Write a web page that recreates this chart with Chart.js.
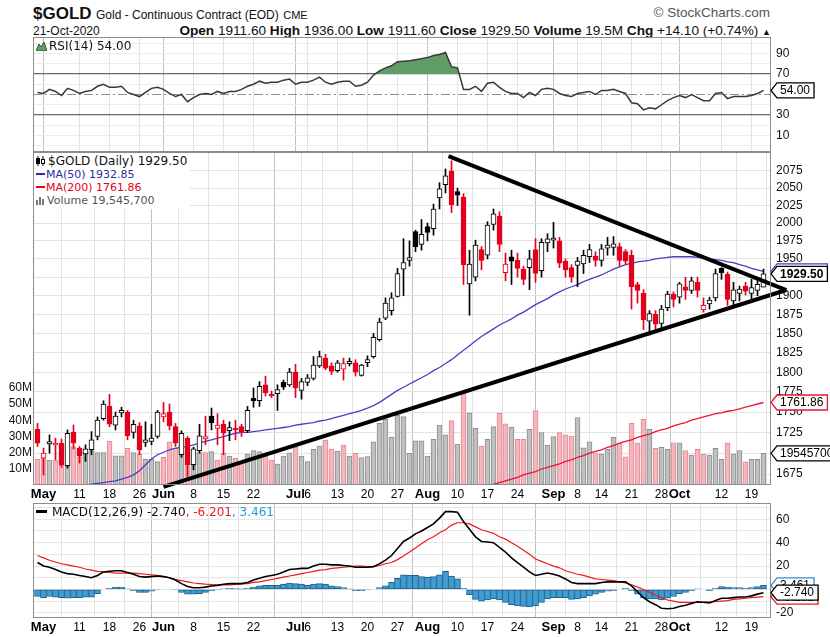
<!DOCTYPE html>
<html><head><meta charset="utf-8">
<script src="https://cdn.jsdelivr.net/npm/chart.js"></script>
<style>
html,body{margin:0;padding:0;background:#fff;}
body{width:830px;height:637px;position:relative;overflow:hidden;font-family:"Liberation Sans",Arial,sans-serif;color:#111;}
.pane{position:absolute;left:0;width:830px;}
.pane canvas{display:block;}
.txt{position:absolute;white-space:nowrap;}
.leg{position:absolute;font-family:"DejaVu Sans",Verdana,sans-serif;white-space:nowrap;}
.dash{display:inline-block;width:9px;height:2px;vertical-align:middle;margin-right:1px;position:relative;top:-1px;}
</style></head><body>
<div class="txt" style="left:33px;top:5px;line-height:17px;"><b style="font-size:17px">$GOLD</b> <span style="font-size:12px">Gold - Continuous Contract (EOD)</span> <span style="font-size:11px">CME</span></div>
<div class="txt" style="right:60px;top:6px;line-height:14px;font-size:13.5px;color:#555;">&copy; StockCharts.com</div>
<div class="txt" id="dateTxt" style="left:33px;top:24px;line-height:14px;font-size:12px;"></div>
<div class="txt" id="quote" style="right:59px;top:23px;line-height:15px;font-size:13.6px;"></div>

<div class="pane" style="top:37px;height:115px"><canvas id="rsi"></canvas></div>
<div class="pane" style="top:152px;height:351px"><canvas id="main"></canvas></div>
<div class="pane" style="top:503px;height:134px"><canvas id="macd"></canvas></div>

<div class="leg" id="rsiLeg" style="left:36px;top:39px;line-height:14px;font-size:12px;color:#111;"></div>
<div class="leg" id="mainLeg" style="left:34px;top:154px;background:#fff;padding:1px 3px 2px 2px;line-height:13px;"></div>
<div class="leg" id="macdLeg" style="left:36px;top:505px;line-height:14px;font-size:12px;"></div>

<script>
// ---------------- data ----------------
const lastDate = '21-Oct-2020';
const priorClose = 1725;
const openP = [1729,1694,1711,1710,1712,1685,1725,1706,1699,1704,
1720,1742,1757,1734,1749,1750,1725,1733,1713,1714,
1720,1744,1750,1732,1698,1718,1686,1703,1717,1745,
1730,1735,1727,1730,1732,1727,1767,1764,1784,1772,
1773,1787,1784,1800,1777,1787,1792,1808,1818,1808,
1802,1804,1811,1812,1796,1812,1820,1842,1870,1880,
1899,1936,1948,1988,1970,1995,1992,2036,2055,2075,
2045,2037,1916,1925,1963,1955,1998,2010,1931,1953,
1948,1936,1938,1963,1934,1972,1976,1975,1947,1938,
1941,1943,1953,1954,1948,1965,1966,1967,1960,1955,
1915,1903,1866,1875,1863,1884,1902,1898,1912,1907,
1918,1881,1889,1897,1937,1929,1893,1903,1913,1903,
1907,1911.6];
const highP = [1736,1706,1722,1718,1717,1728,1734,1708,1710,1726,
1744,1764,1772,1750,1756,1752,1740,1737,1738,1735,
1752,1762,1760,1736,1727,1720,1707,1735,1745,1755,
1748,1740,1738,1740,1735,1757,1780,1788,1795,1776,
1784,1790,1805,1810,1792,1797,1820,1827,1823,1812,
1815,1818,1818,1816,1810,1821,1850,1870,1897,1904,
1937,1978,1975,1990,2005,2000,2027,2058,2078,2090,
2050,2042,1962,1976,1967,2002,2020,2016,1958,1962,
1958,1940,1962,1978,1978,1985,2001,1980,1950,1942,
1952,1962,1970,1960,1970,1980,1981,1972,1963,1962,
1918,1908,1880,1880,1887,1906,1905,1918,1925,1925,
1925,1897,1898,1936,1938,1932,1918,1913,1918,1922,
1925,1936];
const lowP = [1708,1674,1700,1692,1683,1682,1705,1688,1690,1698,
1716,1740,1732,1728,1744,1716,1718,1698,1708,1710,
1718,1738,1728,1708,1695,1672,1680,1700,1710,1728,
1710,1698,1715,1716,1720,1725,1756,1757,1770,1768,
1752,1778,1782,1768,1766,1783,1790,1806,1803,1797,
1800,1790,1808,1795,1795,1807,1818,1840,1868,1874,
1898,1900,1940,1960,1962,1975,1983,2020,2043,2015,
2025,1915,1874,1920,1935,1950,1990,1960,1920,1915,
1925,1915,1908,1918,1925,1960,1965,1938,1925,1918,
1912,1930,1945,1940,1940,1955,1955,1940,1943,1882,
1890,1855,1848,1852,1857,1880,1885,1890,1895,1903,
1898,1878,1882,1893,1922,1887,1884,1893,1901,1896,
1900,1911.6];
const closeP = [1712,1700,1714,1712,1686,1724,1712,1697,1705,1716,
1740,1760,1735,1745,1752,1721,1735,1704,1716,1718,
1750,1748,1733,1712,1724,1686,1705,1721,1720,1737,
1734,1724,1731,1728,1726,1752,1764,1782,1774,1770,
1778,1781,1800,1780,1788,1793,1809,1820,1805,1801,
1812,1811,1814,1800,1809,1816,1845,1865,1890,1897,
1930,1945,1952,1967,1984,1987,2020,2049,2068,2026,
2040,1942,1943,1969,1948,1997,2013,1970,1943,1947,
1937,1922,1950,1930,1973,1978,1979,1944,1935,1925,
1947,1955,1963,1948,1964,1969,1971,1948,1947,1912,
1907,1868,1876,1862,1882,1902,1895,1916,1907,1920,
1907,1887,1894,1930,1931,1895,1908,1909,1906,1911,
1915.4,1929.5];
const volumeM = [15.8,18.9,15.4,15.4,12.3,24.7,23.7,17.5,21.2,21.2,
20.0,20.0,27.1,18.0,18.0,22.6,20.0,18.9,15.8,15.8,
14.4,17.1,26.7,22.6,21.2,18.0,19.5,20.0,20.0,20.6,
15.4,19.5,17.9,16.4,14.4,19.1,21.2,20.6,17.9,15.4,
12.9,17.9,19.9,23.6,17.9,14.4,22.0,24.1,27.8,22.2,
21.0,24.7,17.9,19.5,16.9,17.5,26.7,38.1,40.6,29.5,
43.0,42.2,19.5,27.2,27.2,17.9,28.2,37.0,30.9,39.7,
25.3,56.6,44.3,35.0,24.1,28.2,36.0,44.3,37.7,35.6,
28.2,28.2,34.4,45.9,32.3,24.7,29.9,32.3,30.9,30.2,
41.6,23.0,26.7,19.9,19.1,22.0,29.4,25.7,17.4,38.1,
26.0,40.5,34.3,22.6,23.2,22.0,26.1,26.1,21.2,18.5,
22.0,19.1,18.5,22.6,15.8,26.1,19.1,21.2,14.3,15.8,
15.8,19.5457];
const ma50 = [null,null,null,null,null,null,null,null,
1662,1663,1664,1665,1666,1667,1669,1671,1674,1679,
1686,1693,1698,1701,1704,1706,1707,1708,1710,1712,
1714,1716,1718,1720,1722,1724,1725,1725,1726,1727,
1728,1729,1730,1731,1732,1734,1735,1736,1737,1739,
1740,1742,1744,1746,1748,1750,1752,1755,1758,1762,
1767,1772,1777,1781,1785,1789,1793,1797,1802,1806,
1811,1816,1822,1828,1834,1840,1846,1851,1856,1861,
1865,1869,1874,1878,1883,1888,1892,1896,1901,1905,
1909,1912,1915,1919,1922,1925,1928,1932,1936,1939,
1942,1944,1946,1947,1948,1950,1951,1952,1953,1953,
1953,1953,1952,1951,1950,1949,1948,1946,1945,1942,
1940,1937,1935,1932.85];
const ma200 = [null,null,null,null,null,null,null,null,null,null,
null,null,null,null,null,null,null,null,null,null,
null,null,null,null,null,null,null,null,null,null,
null,null,null,null,null,null,null,null,null,null,
null,null,null,null,null,null,null,null,null,null,
null,null,null,null,null,null,null,null,null,null,
null,null,null,null,null,null,null,null,null,null,
null,null,null,null,null,null,
1663,1665,1667,1669,1671,1674,1676,1678,1681,1683,
1685,1687,1690,1692,1695,1697,1700,1702,1704,1707,
1709,1712,1714,1716,1719,1721,1723,1726,1728,1730,
1733,1735,1737,1740,1742,1744,1746,1748,1749,1751,
1752,1754,1756,1758,1760,1761.86];
const rsi14 = [52,51,55,53,49,56,54,51,53,54,
58,60,57,57,58,52,50,48,52,56,
57,55,51,48,50,43,47,50,51,50,
53,51,53,53,55,58,60,63,61,62,
62,64,65,60,62,62,64,67,62,60,
62,63,63,58,59,62,69,73,76,78,
82,82.5,83,84,85,86,88,89,91,77,
76,55,55,58,53,61,62,57,53,51,
51,47,52,49,55,56,55,51,49,48,
51,52,53,50,54,54,55,53,51,42,
41,35,37,36,40,44,47,49,47,50,
47,44,44,51,52,46,48,48,48,49,
51,54];
const macdLine = [23,20,19,17,15,13.5,13,12,11,10,
12,15,15.5,16,16,14.5,13,11,10.5,11,
11.5,11,10,8,5,2.5,1.5,1.5,2,3,
3.5,4.5,5,5,5,6,8,9.5,11,12,
13,15,17,17.5,18,18,20,21.5,21.5,21,
21,20.5,20,19,19,19,19.5,22,25,29,
35,41,44,47.5,50,53,56,61,66.5,66.5,
66,58,51.5,45,41,40.5,40,36,32,27,
23,19,15,12,13,14,13,11.5,9,6,
5,5,5,5,6,6.5,6.5,6.5,6.5,3,
-2,-7,-10.5,-13,-16,-16.5,-16,-14.5,-13.5,-12,
-10.5,-11,-11.5,-9.5,-7.5,-7.5,-7,-6.5,-6.5,-5.5,
-4,-2.74];
const macdSignal = [29,27,25,23.5,22,21,20,19,17.5,16.5,
15.5,15,14.5,14,14,14,14,13.5,13,12.5,
12,11,10,8.5,7.5,6.5,5.5,5,4.5,4.2,
4,4,4,4.3,4.7,5,6,6.5,7.5,8.5,
9.5,10.5,11.5,12.5,13.5,14.5,15.5,16.5,17,18,
18.5,19,19.5,20,20,19.5,19.5,20.5,22,23,
25.5,28.5,32,35.5,39,42.5,45,48.5,51,55,
57,57,56,53.5,51,49.5,48,45,43,40,
37,33.5,30,26,24,22,20,18.5,16,14.5,
13,12,10.5,9,8.5,8,7.5,6.5,5.5,4,
2,0,-2.5,-5,-7,-9,-10,-11,-11,-11,
-11,-11,-10.5,-10.5,-10,-9.5,-8.5,-8,-7.5,-7,
-6.5,-6.201];
const macdHist = [-6,-7,-6,-6.5,-7,-7.5,-7,-7,-6.5,-6.5,
-3.5,0,1,2,2,0.5,-1,-2.5,-2.5,-1.5,
-0.5,0,0,-0.5,-2.5,-4,-4,-3.5,-2.5,-1.2,
-0.5,0.5,1,0.7,0.3,1,2,3,3.5,3.5,
3.5,4.5,5.5,5,4.5,3.5,4.5,5,4.5,3,
2.5,1.5,0.5,-1,-1,-0.5,0,1.5,3,6,
9.5,12.5,12,12,11,10.5,11,12.5,15.5,11.5,
9,1,-4.5,-8.5,-10,-9,-8,-9,-11,-13,
-14,-14.5,-15,-14,-11,-8,-7,-7,-7,-8.5,
-8,-7,-5.5,-4,-2.5,-1.5,-1,0,1,-1,
-4,-7,-8,-8,-9,-7.5,-6,-3.5,-2.5,-1,
0.5,0,-1,1,2.5,2,1.5,1.5,1,1.5,
2.5,3.461];
const upperTrend = [{x:68.5, y:2097}, {x:124.8, y:1907.6}];
const lowerTrend = [{x:21, y:1659.8}, {x:124.8, y:1907.6}];

const tickIdx  = [1,7,12,17,21,26,31,36,43,45,50,55,60,65,70,75,80,86,90,94,99,104,107,114,119];
const tickText = ['May','11','18','26','Jun','8','15','22','Jul','6','13','20','27','Aug','10','17','24','Sep','8','14','21','28','Oct','12','19'];
const priceTicks = [1675,1700,1725,1750,1775,1800,1825,1850,1875,1900,1925,1950,1975,2000,2025,2050,2075];
const volTicks = [10,20,30,40,50,60];
const rsiGrid = [0,10,20,30,40,50,60,70,80,90,100];
const rsiLabels = [10,30,50,70,90];
const macdGrid = [-20,-10,0,10,20,30,40,50,60,70];
const macdLabels = [-20,20,40,60];

// axis ranges
const X_MIN = -0.75, X_MAX = 122.25;
const P_MIN = 1662.1, P_MAX = 2103;
const V_MAX = 205.6;
const R_MIN = -6.1, R_MAX = 106.1;
const M_MIN = -24.4, M_MAX = 73.9;

// ---------------- helpers ----------------
Chart.defaults.font.family = '"Liberation Sans", Arial, sans-serif';
Chart.defaults.animation = false;
const RED = '#e4001b';
const prevC = i => i === 0 ? priorClose : closeP[i-1];
const isUp = i => closeP[i] >= prevC(i);
const isMonth = i => /[A-Za-z]/.test(tickText[i] || '');
const xy = arr => arr.map((v, i) => ({x: i, y: v}));
const labelFont = {family: '"Liberation Sans", Arial, sans-serif', size: 12};

function xScale(showLabels, h) {
  return {
    type: 'linear', min: X_MIN, max: X_MAX, offset: false,
    afterBuildTicks: s => { s.ticks = tickIdx.map(v => ({value: v})); },
    grid: { color: c => isMonth(c.index) ? '#c2c2c2' : '#e3e3e3', drawTicks: false },
    border: { display: false },
    ticks: { display: showLabels, autoSkip: false, maxRotation: 0, minRotation: 0, padding: 2, color: '#000',
      font: c => isMonth(c.index) ? {family: labelFont.family, size: 13, weight: 'bold'} : labelFont,
      callback: (v, i) => tickText[i] },
    afterFit: s => { s.height = h; s.paddingLeft = 0; s.paddingRight = 0; }
  };
}
function yRight(extra) {
  return Object.assign({
    position: 'right',
    border: { display: false },
    afterFit: s => { s.width = 59; s.paddingTop = 0; s.paddingBottom = 0; }
  }, extra);
}
const frame = { id: 'frame', afterDraw(chart) {
  const a = chart.chartArea, c = chart.ctx;
  c.save(); c.strokeStyle = '#8c8c8c'; c.lineWidth = 1;
  c.strokeRect(Math.round(a.left) + 0.5, Math.round(a.top) + 0.5, Math.round(a.width) - 1, Math.round(a.height) - 1);
  c.restore();
}};
function tag(c, x, y, text, color, bold) {
  c.save();
  c.font = (bold ? 'bold ' : '') + '12px "Liberation Sans", Arial, sans-serif';
  const w = c.measureText(text).width + 7, h = 15;
  c.beginPath();
  c.moveTo(x, y); c.lineTo(x + 6, y - h / 2); c.lineTo(x + 6 + w, y - h / 2);
  c.lineTo(x + 6 + w, y + h / 2); c.lineTo(x + 6, y + h / 2); c.closePath();
  c.fillStyle = '#fff'; c.fill();
  c.lineWidth = 1.3; c.strokeStyle = color; c.stroke();
  c.fillStyle = '#000'; c.textBaseline = 'middle'; c.textAlign = 'left';
  c.fillText(text, x + 9, y + 0.5);
  c.restore();
}
const N = closeP.length - 1;

// ---------------- RSI ----------------
new Chart(document.getElementById('rsi'), {
  type: 'line',
  data: { datasets: [{
    data: xy(rsi14), borderColor: '#383838', borderWidth: 1.5, pointRadius: 0,
    fill: { target: { value: 70 }, above: '#5f9c66', below: 'rgba(0,0,0,0)' }
  }]},
  options: {
    responsive: true, maintainAspectRatio: false, layout: { padding: { left: 33 } },
    plugins: { legend: { display: false }, tooltip: { enabled: false } },
    scales: {
      x: xScale(false, 0),
      y: yRight({ min: R_MIN, max: R_MAX,
        afterBuildTicks: s => { s.ticks = rsiGrid.map(v => ({value: v})); },
        grid: { color: c => { const v = c.tick && c.tick.value; return (v === 70 || v === 30) ? '#6a6a6a' : v === 50 ? '#8f8f8f' : '#ececec'; },
                lineWidth: c => { const v = c.tick && c.tick.value; return (v === 70 || v === 30) ? 1.3 : 1; }, drawTicks: false },
        border: { display: false, dash: c => (c.tick && c.tick.value === 50) ? [9, 3, 2, 3] : [] },
        ticks: { autoSkip: false, padding: 5, color: '#111', font: labelFont, callback: v => rsiLabels.includes(v) ? String(v) : '' }
      })
    }
  },
  plugins: [frame, { id: 'rsiTag', afterDraw(ch) {
    tag(ch.ctx, ch.chartArea.right, ch.scales.y.getPixelForValue(rsi14[N]), rsi14[N].toFixed(2), '#000', false);
  }}]
});

// ---------------- Main price ----------------
new Chart(document.getElementById('main'), {
  data: { datasets: [
    { type: 'line', order: 0, data: upperTrend, borderColor: '#000', borderWidth: 4, pointRadius: 0, clip: false, yAxisID: 'y' },
    { type: 'line', order: 0, data: lowerTrend, borderColor: '#000', borderWidth: 4, pointRadius: 0, clip: false, yAxisID: 'y' },
    { type: 'bar', order: 2, yAxisID: 'y', grouped: false, barThickness: 5,
      data: openP.map((o, i) => ({x: i, y: [o, closeP[i]]})),
      backgroundColor: c => (closeP[c.dataIndex] < openP[c.dataIndex]) ? (isUp(c.dataIndex) ? '#000' : RED) : '#fff',
      borderColor: c => isUp(c.dataIndex) ? '#000' : RED, borderWidth: 1, borderSkipped: false },
    { type: 'bar', order: 3, yAxisID: 'y', grouped: false, barThickness: 1,
      data: lowP.map((l, i) => ({x: i, y: [l, highP[i]]})),
      backgroundColor: c => isUp(c.dataIndex) ? '#000' : RED, borderWidth: 0 },
    { type: 'line', order: 4, yAxisID: 'y', data: xy(ma50), borderColor: '#4b3dc6', borderWidth: 1.3, pointRadius: 0 },
    { type: 'line', order: 4, yAxisID: 'y', data: xy(ma200), borderColor: '#ea1538', borderWidth: 1.3, pointRadius: 0 },
    { type: 'bar', order: 6, yAxisID: 'yv', grouped: false, barThickness: 5, data: xy(volumeM),
      backgroundColor: c => isUp(c.dataIndex) ? '#c0c0c0' : '#f4b7be',
      borderColor: c => isUp(c.dataIndex) ? '#8e8e8e' : '#e48895', borderWidth: 1, borderSkipped: 'start' }
  ]},
  options: {
    responsive: true, maintainAspectRatio: false,
    plugins: { legend: { display: false }, tooltip: { enabled: false } },
    scales: {
      x: xScale(true, 18),
      y: yRight({ type: 'logarithmic', min: P_MIN, max: P_MAX,
        afterBuildTicks: s => { s.ticks = priceTicks.map(v => ({value: v})); },
        grid: { color: '#e3e3e3', drawTicks: false },
        ticks: { autoSkip: false, padding: 5, color: '#111', font: labelFont, callback: v => String(v) }
      }),
      yv: { type: 'linear', position: 'left', min: 0, max: V_MAX,
        afterBuildTicks: s => { s.ticks = volTicks.map(v => ({value: v})); },
        grid: { drawOnChartArea: false, drawTicks: false }, border: { display: false },
        ticks: { autoSkip: false, padding: 1, color: '#111', font: labelFont, callback: v => v + 'M' },
        afterFit: s => { s.width = 33; s.paddingTop = 0; s.paddingBottom = 0; }
      }
    }
  },
  plugins: [frame, { id: 'mainTags', afterDraw(ch) {
    const c = ch.ctx, x = ch.chartArea.right, y = ch.scales.y, yv = ch.scales.yv;
    tag(c, x, yv.getPixelForValue(volumeM[N]), String(Math.round(volumeM[N] * 1e6)), '#000', false);
    tag(c, x, y.getPixelForValue(ma200[N]), ma200[N].toFixed(2), '#ea1538', false);
    tag(c, x, y.getPixelForValue(ma50[N]), ma50[N].toFixed(2), '#4b3dc6', false);
    tag(c, x, y.getPixelForValue(closeP[N]), closeP[N].toFixed(2), '#000', true);
  }}]
});

// ---------------- MACD ----------------
new Chart(document.getElementById('macd'), {
  data: { datasets: [
    { type: 'line', order: 1, data: xy(macdLine), borderColor: '#000', borderWidth: 1.6, pointRadius: 0 },
    { type: 'line', order: 2, data: xy(macdSignal), borderColor: '#f11818', borderWidth: 1.2, pointRadius: 0 },
    { type: 'bar', order: 3, grouped: false, barThickness: 6, data: xy(macdHist),
      backgroundColor: '#3e9dd2', borderColor: '#1d5f8c', borderWidth: 1, borderSkipped: false }
  ]},
  options: {
    responsive: true, maintainAspectRatio: false, layout: { padding: { left: 33 } },
    plugins: { legend: { display: false }, tooltip: { enabled: false } },
    scales: {
      x: xScale(true, 19),
      y: yRight({ min: M_MIN, max: M_MAX,
        afterBuildTicks: s => { s.ticks = macdGrid.map(v => ({value: v})); },
        grid: { color: '#e6e6e6', drawTicks: false },
        ticks: { autoSkip: false, padding: 5, color: '#111', font: labelFont, callback: v => macdLabels.includes(v) ? String(v) : '' }
      })
    }
  },
  plugins: [frame, { id: 'macdTags', afterDraw(ch) {
    const c = ch.ctx, x = ch.chartArea.right, y = ch.scales.y;
    tag(c, x, y.getPixelForValue(macdHist[N]), macdHist[N].toFixed(3), '#2f8fd0', false);
    tag(c, x, y.getPixelForValue(macdSignal[N]), macdSignal[N].toFixed(3), '#f11818', false);
    tag(c, x, y.getPixelForValue(macdLine[N]), macdLine[N].toFixed(3), '#000', false);
  }}]
});

// ---------------- texts ----------------
const f2 = v => v.toFixed(2);
const chg = closeP[N] - closeP[N - 1];
const pct = chg / closeP[N - 1] * 100;
document.getElementById('dateTxt').textContent = lastDate;
document.getElementById('quote').innerHTML =
  '<b>Open</b> ' + f2(openP[N]) + ' <b>High</b> ' + f2(highP[N]) + ' <b>Low</b> ' + f2(lowP[N]) +
  ' <b>Close</b> ' + f2(closeP[N]) + ' <b>Volume</b> ' + volumeM[N].toFixed(1) + 'M <b>Chg</b> +' +
  f2(chg) + ' (+' + f2(pct) + '%) <span style="font-size:9px">&#9650;</span>';
document.getElementById('rsiLeg').innerHTML =
  '<svg width="11" height="10" style="vertical-align:-1px;margin-right:2px"><path d="M0 10 L3 3 L5 6 L8 1 L11 10 Z" fill="#5f9c66" stroke="#2d5a33" stroke-width="1"/></svg>RSI(14) ' + rsi14[N].toFixed(2);
document.getElementById('mainLeg').innerHTML =
  '<div style="font-size:12px;color:#111"><svg width="10" height="10" style="vertical-align:-1px;margin-right:2px"><path d="M2 0V10M7 0V10" stroke="#000"/><rect x="0.5" y="2.5" width="3" height="5" fill="#000" stroke="#000"/><rect x="5.5" y="3.5" width="3" height="4" fill="#fff" stroke="#000"/></svg>$GOLD (Daily) ' + f2(closeP[N]) + '</div>' +
  '<div style="font-size:11px;color:#2c2c9e"><span class="dash" style="background:#2c2c9e"></span>MA(50) ' + f2(ma50[N]) + '</div>' +
  '<div style="font-size:11px;color:#e6001e"><span class="dash" style="background:#e6001e"></span>MA(200) ' + f2(ma200[N]) + '</div>' +
  '<div style="font-size:11px;color:#555"><svg width="10" height="9" style="vertical-align:-1px;margin-right:1px"><rect x="0" y="4" width="2" height="5" fill="#777"/><rect x="3" y="1" width="2" height="8" fill="#777"/><rect x="6" y="3" width="2" height="6" fill="#777"/></svg>Volume ' + Math.round(volumeM[N] * 1e6).toLocaleString('en-US') + '</div>';
document.getElementById('macdLeg').innerHTML =
  '<span class="dash" style="background:#000;width:11px;height:3px;margin-right:5px"></span>MACD(12,26,9) ' + macdLine[N].toFixed(3) +
  '<span style="color:#f11818">, ' + macdSignal[N].toFixed(3) + '</span><span style="color:#2a9ad6">, ' + macdHist[N].toFixed(3) + '</span>';
</script>
</body></html>
